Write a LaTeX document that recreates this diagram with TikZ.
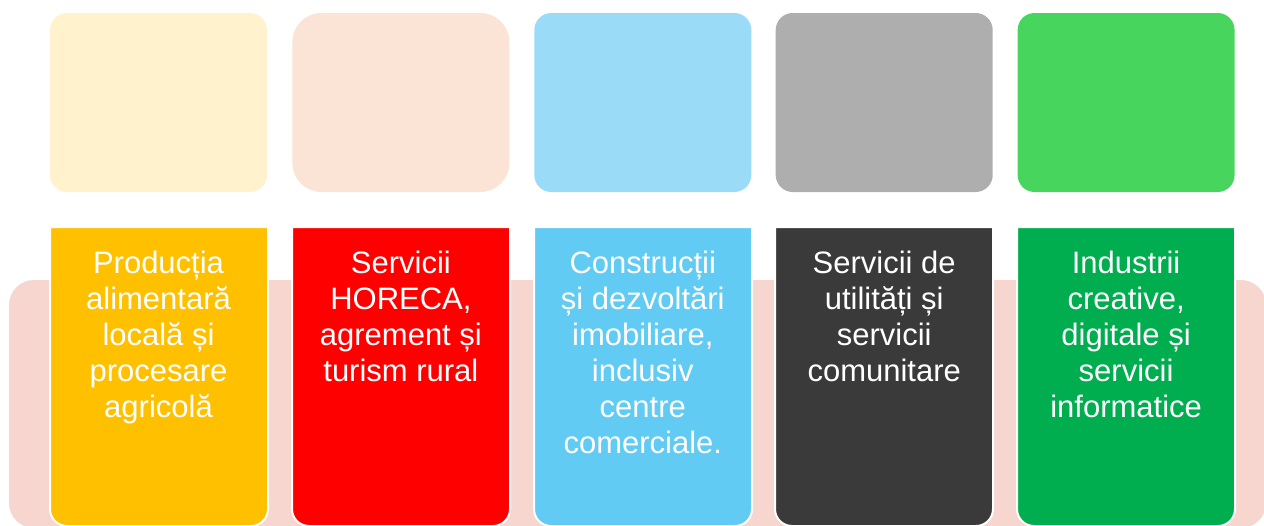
\documentclass[tikz,border=0pt]{standalone}
\usepackage{fontspec}
\setmainfont{Liberation Sans}
\usepackage{tikz}
\usetikzlibrary{positioning}

\definecolor{bandpink}{HTML}{F6D6CF}
\definecolor{paleyellow}{HTML}{FFF2CC}
\definecolor{palepeach}{HTML}{FBE4D6}
\definecolor{paleblue}{HTML}{9ADBF7}
\definecolor{palegrey}{HTML}{AEAEAE}
\definecolor{palegreen}{HTML}{47D55E}
\definecolor{gold}{HTML}{FFC000}
\definecolor{signalred}{HTML}{FF0000}
\definecolor{skyblue}{HTML}{61CBF3}
\definecolor{darkgrey}{HTML}{3A3A3A}
\definecolor{leafgreen}{HTML}{00AD4F}

\tikzset{
    topbox/.style={rectangle, rounded corners=17pt, minimum width=217pt, minimum height=179pt, inner sep=0pt},
    lowbox/.style={draw=white, line width=2pt},
    sectortext/.style={text=white, align=center, anchor=north, inner sep=0pt, font=\fontsize{31}{36}\selectfont}
}

\begin{document}
\begin{tikzpicture}[x=1pt,y=-1pt]
    \useasboundingbox (0,0) rectangle (1264,525);
    \fill[bandpink, rounded corners=25pt] (9,280) rectangle (1266,528);

    \node[topbox, fill=paleyellow] (t1) at (158.5,102.5) {};
    \node[topbox, fill=palepeach, rounded corners=29pt, right=25pt of t1] (t2) {};
    \node[topbox, fill=paleblue, right=24.5pt of t2] (t3) {};
    \node[topbox, fill=palegrey, right=24pt of t3] (t4) {};
    \node[topbox, fill=palegreen, right=24.5pt of t4] (t5) {};

    \draw[lowbox, fill=gold] (50,227) [rounded corners=17pt] -- (50,526) -- (268,526) [sharp corners] -- (268,227) -- cycle;
    \draw[lowbox, fill=signalred] (292,227) [rounded corners=17pt] -- (292,526) -- (510,526) [sharp corners] -- (510,227) -- cycle;
    \draw[lowbox, fill=skyblue] (534,227) [rounded corners=17pt] -- (534,526) -- (752,526) [sharp corners] -- (752,227) -- cycle;
    \draw[lowbox, fill=darkgrey] (775,227) [rounded corners=17pt] -- (775,526) -- (993,526) [sharp corners] -- (993,227) -- cycle;
    \draw[lowbox, fill=leafgreen] (1017,227) [rounded corners=17pt] -- (1017,526) -- (1235,526) [sharp corners] -- (1235,227) -- cycle;

    \node[sectortext] (s1) at (t1 |- 0,251) {Producția\\alimentară\\locală și\\procesare\\agricolă};
    \node[sectortext] (s2) at (t2 |- 0,251) {Servicii\\HORECA,\\agrement și\\turism rural};
    \node[sectortext] (s3) at (t3 |- 0,251) {Construcții\\și dezvoltări\\imobiliare,\\inclusiv\\centre\\comerciale.};
    \node[sectortext] (s4) at (t4 |- 0,251) {Servicii de\\utilități și\\servicii\\comunitare};
    \node[sectortext] (s5) at (t5 |- 0,251) {Industrii\\creative,\\digitale și\\servicii\\informatice};
\end{tikzpicture}
\end{document}
